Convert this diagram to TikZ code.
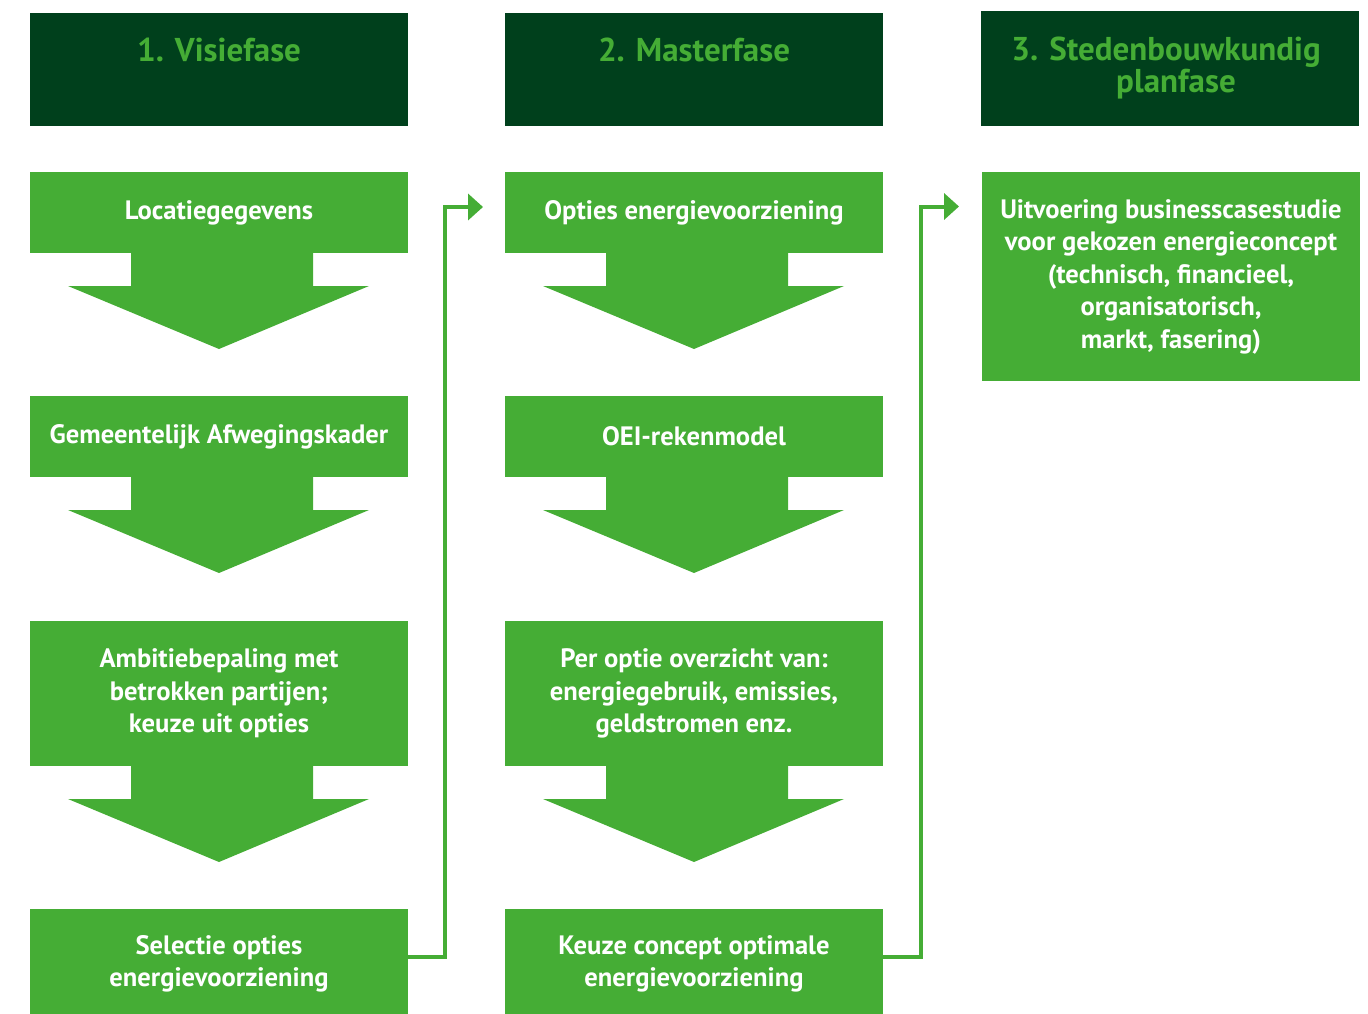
\documentclass[tikz,border=0pt]{standalone}
\usepackage{fontspec}
\setmainfont{PT Sans}
\usetikzlibrary{arrows.meta}
\definecolor{lgreen}{HTML}{45AD35}
\definecolor{dgreen}{HTML}{00401C}
\newcommand\flowarrow[1]{%
  \fill[lgreen] ([xshift=101pt]#1.south west) -- ([xshift=101pt,yshift=-33pt]#1.south west)
   -- ([xshift=38pt,yshift=-33pt]#1.south west) -- ([xshift=189pt,yshift=-96pt]#1.south west)
   -- ([xshift=339pt,yshift=-33pt]#1.south west) -- ([xshift=283pt,yshift=-33pt]#1.south west)
   -- ([xshift=283pt]#1.south west) -- cycle;}
\begin{document}
\begin{tikzpicture}[x=1pt,y=-1pt,
  box/.style={fill=lgreen,text=white,minimum width=378pt,inner sep=0pt,outer sep=0pt,
    align=center,anchor=north west,font=\bfseries\fontsize{26.6}{32.5}\selectfont},
  hdr/.style={fill=dgreen,minimum width=378pt,inner sep=0pt,outer sep=0pt,anchor=north west},
  hdrtext/.style={text=lgreen,align=center,inner sep=0pt,font=\bfseries\fontsize{33}{32}\selectfont},
  conn/.style={draw=lgreen,line width=4pt,-{Triangle[length=15pt,width=26pt]}}]
\useasboundingbox (0,0) rectangle (1368,1014);
% headers
\node[hdr,minimum height=113pt] (h1) at (30,13) {};
\node[hdr,minimum height=113pt] (h2) at (505,13) {};
\node[hdr,minimum height=115pt] (h3) at (981,11) {};
\node[hdrtext] (t1) at ([yshift=-37pt]h1.north) {1. Visiefase};
\node[hdrtext] (t2) at ([yshift=-37pt]h2.north) {2. Masterfase};
\node[hdrtext,anchor=north] (t3) at ([xshift=-4pt,yshift=-26pt]h3.north) {3. Stedenbouwkundig\\\hspace*{20pt}planfase};
% column 1
\node[box,minimum height=81pt] (a1) at (30,172) {Locatiegegevens};
\node[box,minimum height=81pt] (a2) at (30,396) {Gemeentelijk Afwegingskader};
\node[box,minimum height=145pt] (a3) at (30,621) {Ambitiebepaling met\\betrokken partijen;\\keuze uit opties};
\node[box,minimum height=110pt] (a4) at (30,909) {Selectie opties\\energievoorziening};
\flowarrow{a1}\flowarrow{a2}\flowarrow{a3}
% column 2
\node[box,minimum height=81pt] (b1) at (505,172) {Opties energievoorziening};
\node[box,minimum height=81pt] (b2) at (505,396) {OEI-rekenmodel};
\node[box,minimum height=145pt] (b3) at (505,621) {Per optie overzicht van:\\energiegebruik, emissies,\\geldstromen enz.};
\node[box,minimum height=110pt] (b4) at (505,909) {Keuze concept optimale\\energievoorziening};
\flowarrow{b1}\flowarrow{b2}\flowarrow{b3}
% column 3
\node[box,minimum height=209pt] (c1) at (982,172) {Uitvoering businesscasestudie\\voor gekozen energieconcept\\(technisch, financieel,\\organisatorisch,\\markt, fasering)};
% connectors
\coordinate (e1) at ([xshift=-22pt,yshift=5.5pt]b1.west);
\coordinate (e2) at ([xshift=-23pt,yshift=70pt]c1.west);
\draw[conn] ([yshift=7pt]a4.east) -- ++(37pt,0) |- (e1);
\draw[conn] ([yshift=7pt]b4.east) -- ++(38pt,0) |- (e2);
\end{tikzpicture}
\end{document}
